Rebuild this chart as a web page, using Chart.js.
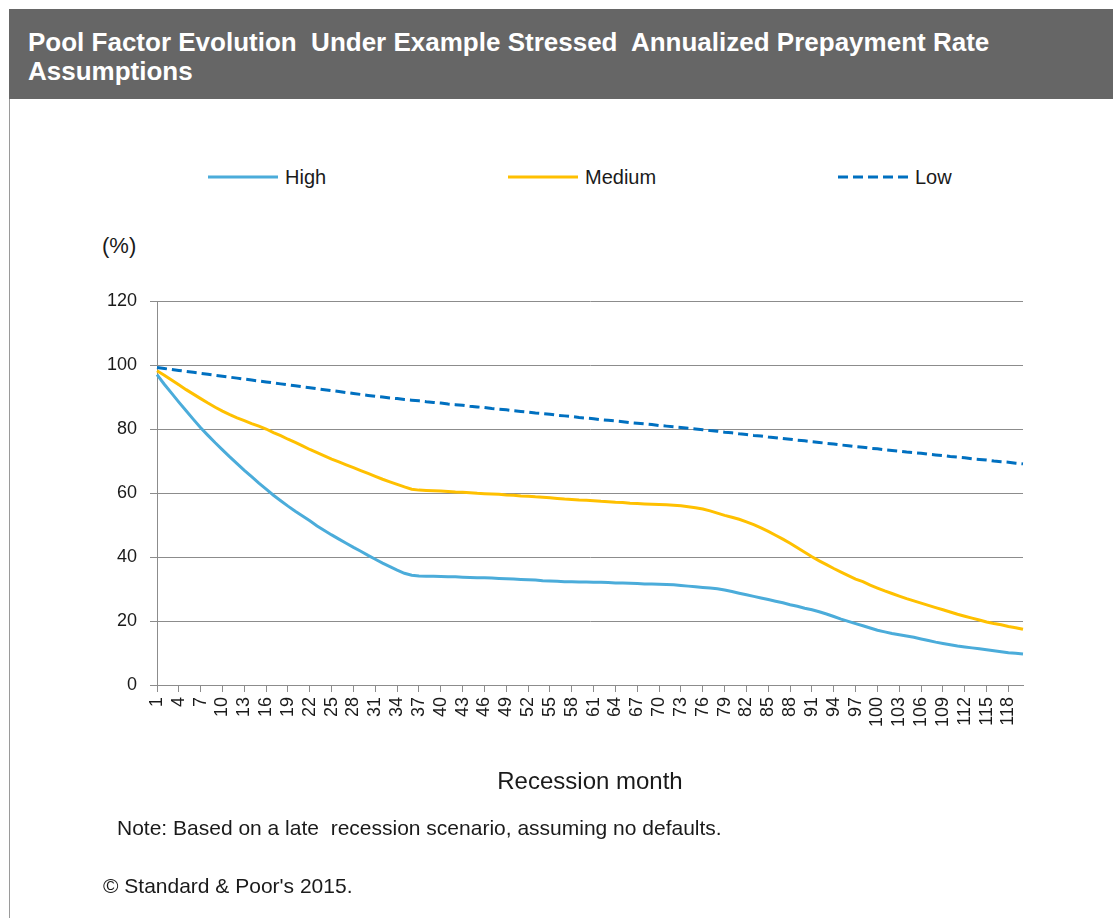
<!DOCTYPE html>
<html>
<head>
<meta charset="utf-8">
<script src="https://cdn.jsdelivr.net/npm/chart.js@4.4.1/dist/chart.umd.min.js"></script>
<style>
  html, body { margin:0; padding:0; background:#fff; width:1113px; height:918px; overflow:hidden;
    font-family:"Liberation Sans", Arial, sans-serif; color:#1a1a1a; }
  #frame { position:absolute; left:9px; top:99px; width:0; height:819px; border-left:1px solid #9a9a9a; }
  #titlebar { position:absolute; left:9px; top:9px; width:1104px; height:90px; background:#666666; color:#fff;
    font-weight:bold; font-size:26px; line-height:29px; box-sizing:border-box; padding:19px 0 0 19px; white-space:pre; }
  .leg { position:absolute; height:24px; display:flex; align-items:center; font-size:20px; color:#1a1a1a; white-space:nowrap; }
  .leg svg { display:block; margin-right:7px; }
  .txt { position:absolute; white-space:pre; color:#1a1a1a; }
  #chartbox { position:absolute; left:0; top:200px; width:1113px; height:718px; }
</style>
</head>
<body>
<div id="titlebar">Pool Factor Evolution  Under Example Stressed  Annualized Prepayment Rate
Assumptions</div>
<div id="frame"></div>
<div id="legend"></div>
<div class="txt" style="left:102px; top:234px; font-size:22px; line-height:24px;">(%)</div>
<div id="chartbox"><canvas id="c" width="1113" height="718" style="width:1113px;height:718px;"></canvas></div>
<div class="txt" style="left:117px; top:816px; font-size:21px; line-height:24px;">Note: Based on a late  recession scenario, assuming no defaults.</div>
<div class="txt" style="left:103px; top:874px; font-size:21px; line-height:24px;">© Standard &amp; Poor's 2015.</div>

<script>
// ---- Data ----
const months = ['1','2','3','4','5','6','7','8','9','10','11','12','13','14','15','16','17','18','19','20',
  '21','22','23','24','25','26','27','28','29','30','31','32','33','34','35','36','37','38','39','40',
  '41','42','43','44','45','46','47','48','49','50','51','52','53','54','55','56','57','58','59','60',
  '61','62','63','64','65','66','67','68','69','70','71','72','73','74','75','76','77','78','79','80',
  '81','82','83','84','85','86','87','88','89','90','91','92','93','94','95','96','97','98','99','100',
  '101','102','103','104','105','106','107','108','109','110','111','112','113','114','115','116','117','118','119','120'];

const seriesNames = ['High', 'Medium', 'Low'];

const high = [
  97.0, 94.0, 91.2, 88.4, 85.7, 83.0, 80.4, 78.0, 75.7, 73.5,
  71.3, 69.2, 67.1, 65.1, 63.1, 61.2, 59.3, 57.6, 55.9, 54.3,
  52.8, 51.3, 49.7, 48.3, 46.9, 45.6, 44.3, 43.0, 41.8, 40.5,
  39.3, 38.1, 37.0, 35.9, 34.9, 34.3, 34.1, 34.0, 34.0, 33.9,
  33.8, 33.8, 33.7, 33.6, 33.5, 33.5, 33.4, 33.3, 33.2, 33.1,
  33.0, 32.9, 32.8, 32.6, 32.5, 32.4, 32.3, 32.3, 32.2, 32.2,
  32.1, 32.1, 32.0, 31.9, 31.9, 31.8, 31.7, 31.6, 31.6, 31.5,
  31.4, 31.3, 31.1, 30.9, 30.7, 30.5, 30.3, 30.1, 29.7, 29.2,
  28.7, 28.2, 27.7, 27.2, 26.7, 26.2, 25.7, 25.1, 24.6, 24.0,
  23.5, 22.9, 22.2, 21.4, 20.6, 19.9, 19.2, 18.5, 17.8, 17.1,
  16.6, 16.1, 15.7, 15.3, 14.9, 14.4, 13.9, 13.4, 13.0, 12.6,
  12.2, 11.9, 11.6, 11.3, 11.0, 10.7, 10.4, 10.1, 9.9, 9.7
];

const medium = [
  98.2, 96.8, 95.3, 93.8, 92.3, 90.9, 89.5, 88.1, 86.8, 85.6,
  84.5, 83.5, 82.6, 81.7, 80.9, 80.0, 78.9, 77.9, 76.8, 75.8,
  74.7, 73.6, 72.6, 71.6, 70.6, 69.7, 68.8, 67.9, 67.0, 66.1,
  65.2, 64.3, 63.5, 62.7, 61.9, 61.2, 60.9, 60.8, 60.7, 60.6,
  60.5, 60.3, 60.2, 60.1, 59.9, 59.8, 59.7, 59.6, 59.4, 59.3,
  59.1, 59.0, 58.8, 58.7, 58.5, 58.3, 58.1, 58.0, 57.8, 57.7,
  57.6, 57.4, 57.3, 57.1, 57.0, 56.8, 56.7, 56.6, 56.5, 56.4,
  56.3, 56.2, 56.0, 55.7, 55.4, 55.0, 54.4, 53.7, 53.0, 52.4,
  51.8, 51.0, 50.1, 49.1, 48.0, 46.8, 45.6, 44.3, 42.9, 41.5,
  40.1, 38.8, 37.6, 36.4, 35.3, 34.2, 33.1, 32.3, 31.2, 30.3,
  29.4, 28.6, 27.8, 27.0, 26.3, 25.6, 24.9, 24.2, 23.5, 22.8,
  22.1, 21.5, 20.9, 20.3, 19.7, 19.2, 18.8, 18.3, 17.9, 17.4
];

const low = [
  99.2, 98.9, 98.6, 98.3, 98.0, 97.7, 97.4, 97.1, 96.8, 96.5,
  96.2, 95.9, 95.6, 95.3, 95.0, 94.7, 94.4, 94.1, 93.8, 93.5,
  93.2, 92.9, 92.6, 92.3, 92.0, 91.7, 91.4, 91.1, 90.8, 90.5,
  90.2, 90.0, 89.7, 89.5, 89.2, 89.0, 88.8, 88.5, 88.3, 88.1,
  87.8, 87.6, 87.4, 87.1, 86.9, 86.7, 86.4, 86.2, 86.0, 85.7,
  85.5, 85.3, 85.0, 84.8, 84.6, 84.3, 84.1, 83.9, 83.6, 83.4,
  83.2, 82.9, 82.7, 82.5, 82.3, 82.0, 81.8, 81.6, 81.4, 81.1,
  80.9, 80.7, 80.5, 80.2, 80.0, 79.8, 79.5, 79.3, 79.0, 78.8,
  78.5, 78.3, 78.0, 77.8, 77.5, 77.3, 77.0, 76.8, 76.5, 76.3,
  76.0, 75.8, 75.5, 75.3, 75.0, 74.8, 74.5, 74.3, 74.0, 73.8,
  73.5, 73.3, 73.1, 72.8, 72.6, 72.4, 72.1, 71.9, 71.7, 71.4,
  71.2, 71.0, 70.7, 70.5, 70.3, 70.0, 69.8, 69.6, 69.3, 69.1
];

const yTicks = [0, 20, 40, 60, 80, 100, 120];

// ---- Styles ----
const FONT = '"Liberation Sans", Arial, sans-serif';
const colors = ['#4BACDA', '#FFC000', '#0070C0'];
const dashes = [[], [], [10, 5]];
const GRID = '#8c8c8c';

const ctx = document.getElementById('c').getContext('2d');
const chart = new Chart(ctx, {
  type: 'line',
  data: {
    labels: months,
    datasets: [high, medium, low].map((d, i) => ({
      label: seriesNames[i],
      data: d,
      borderColor: colors[i],
      backgroundColor: colors[i],
      borderWidth: 3,
      borderDash: dashes[i],
      pointRadius: 0,
      tension: 0,
      fill: false,
      order: 3 - i
    }))
  },
  options: {
    responsive: false,
    animation: false,
    devicePixelRatio: 1,
    layout: { padding: { left: 0, right: 90, top: 101, bottom: 121.6 } },
    plugins: { legend: { display: false }, tooltip: { enabled: false }, title: { display: false } },
    scales: {
      x: {
        type: 'category',
        offset: false,
        grid: { drawOnChartArea: false, drawTicks: true, tickLength: 7, color: GRID, lineWidth: 1 },
        border: { display: true, color: GRID, width: 1 },
        ticks: {
          autoSkip: false, minRotation: 90, maxRotation: 90, padding: 5, color: '#1a1a1a',
          font: { family: FONT, size: 18 },
          callback: function (v, i) { return i % 3 === 0 ? this.getLabelForValue(v) : null; }
        },
        title: { display: true, text: 'Recession month', color: '#1a1a1a',
          font: { family: FONT, size: 24 }, padding: { top: 0, bottom: 0 } },
        afterFit: (s) => { s.height = 111.4; }
      },
      y: {
        min: 0, max: 120,
        afterBuildTicks: (s) => { s.ticks = yTicks.map(v => ({ value: v })); },
        ticks: { padding: 13, color: '#1a1a1a', font: { family: FONT, size: 18 } },
        grid: { color: GRID, lineWidth: 1, tickLength: 7, drawTicks: true },
        border: { display: true, color: GRID, width: 1 },
        afterFit: (s) => { s.width = 157; }
      }
    }
  }
});

// ---- HTML legend built from the chart's datasets ----
const legendX = [208, 508, 838];
const legendEl = document.getElementById('legend');
chart.data.datasets.forEach((ds, i) => {
  const item = document.createElement('div');
  item.className = 'leg';
  item.style.left = legendX[i] + 'px';
  item.style.top = (177 - 12) + 'px';
  const dash = (ds.borderDash && ds.borderDash.length) ? ` stroke-dasharray="${ds.borderDash.join(',')}"` : '';
  item.innerHTML = `<svg width="70" height="6"><line x1="0" y1="3" x2="70" y2="3" stroke="${ds.borderColor}" stroke-width="3"${dash}/></svg><span>${ds.label}</span>`;
  legendEl.appendChild(item);
});
</script>
</body>
</html>
